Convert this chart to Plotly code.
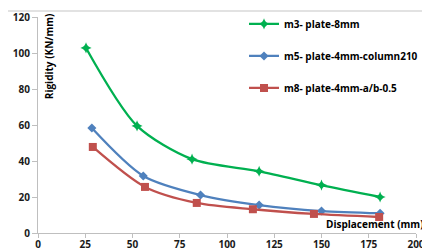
import plotly.graph_objects as go

names = ["m3- plate-8mm", "m5- plate-4mm-column210", "m8- plate-4mm-a/b-0.5"]
x_m3 = [25.4, 52.4, 81.5, 117, 150, 181]
y_m3 = [102.8, 59.5, 41, 34.3, 26.6, 20]
x_m5 = [28.5, 55.7, 86, 117, 150, 181]
y_m5 = [58.3, 31.7, 21.1, 15.5, 12.2, 11]
x_m8 = [29, 56.6, 84, 113.7, 146, 180.5]
y_m8 = [47.8, 25.6, 16.7, 13.2, 10.6, 8.9]
x_ticks = [0, 25, 50, 75, 100, 125, 150, 175, 200]
y_ticks = [0, 20, 40, 60, 80, 100, 120]

colors = ["#00B050", "#4F81BD", "#C0504D"]
symbols = ["star-diamond", "diamond", "square"]
sizes = [8, 7, 8]

fig = go.Figure()
for i, (xs, ys) in enumerate([(x_m3, y_m3), (x_m5, y_m5), (x_m8, y_m8)]):
    fig.add_trace(go.Scatter(
        x=xs, y=ys, name=names[i], mode="lines+markers",
        line=dict(color=colors[i], width=2.3, shape="spline", smoothing=0.8),
        marker=dict(symbol=symbols[i], size=sizes[i], color=colors[i]),
        legendgroup=str(i),
    ))

font_main = "Open Sans"
# page body has an 8px margin, so plot margins are offset accordingly
fig.update_layout(
    width=422, height=243,
    margin=dict(l=30, r=14, t=9, b=18, autoexpand=False),
    paper_bgcolor="white", plot_bgcolor="white",
    font=dict(family=font_main, size=10, color="#1a1a1a"),
    showlegend=True,
    legend=dict(x=0.545, y=1.035, xanchor="left", yanchor="top",
                tracegroupgap=13, font=dict(size=10, color="#000000", weight="bold"),
                bgcolor="rgba(0,0,0,0)", itemwidth=30),
    xaxis=dict(range=[0, 200], tickvals=x_ticks, ticktext=[str(v) for v in x_ticks],
               showgrid=False, zeroline=False, showline=True, linecolor="#bfbfbf",
               linewidth=1, ticks="outside", ticklen=4, tickcolor="#bfbfbf",
               automargin=False, ticklabelstandoff=-2,
               tickfont=dict(size=10, weight="bold", color="#1a1a1a")),
    yaxis=dict(range=[0, 120], tickvals=y_ticks, ticktext=[str(v) for v in y_ticks],
               showgrid=False, zeroline=False, showline=True, linecolor="#bfbfbf",
               linewidth=1, ticks="outside", ticklen=5, tickcolor="#bfbfbf",
               automargin=False,
               tickfont=dict(size=10, weight="bold", color="#1a1a1a")),
    annotations=[
        dict(text="Rigidity (KN/mm)", xref="paper", yref="paper", x=0.03, y=0.82,
             textangle=-90, showarrow=False, xanchor="center", yanchor="middle",
             font=dict(size=10, weight="bold", color="#000000")),
        dict(text="Displacement (mm)", xref="paper", yref="paper", x=1.026, y=0.04,
             showarrow=False, xanchor="right", yanchor="middle",
             font=dict(size=10, weight="bold", color="#000000")),
    ],
    shapes=[
        dict(type="line", xref="paper", yref="paper", x0=-0.08, x1=1.0238,
             y0=1.0278, y1=1.0278, line=dict(color="#d9d9d9", width=1.5)),
    ],
)

fig.write_html("out.html")
